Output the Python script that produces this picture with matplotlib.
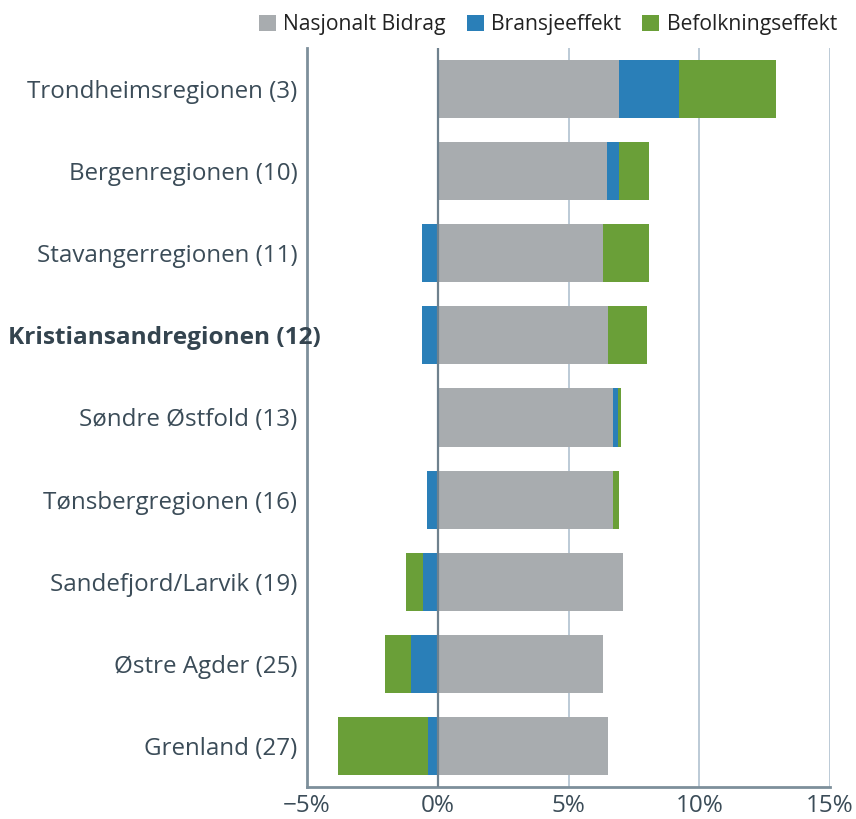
import matplotlib
matplotlib.use("Agg")
import matplotlib.pyplot as plt
import matplotlib.transforms as mtransforms
from matplotlib.patches import Patch
import numpy as np

plt.rcParams['font.family'] = ['Open Sans', 'DejaVu Sans']

regions = ["Trondheimsregionen (3)", "Bergenregionen (10)", "Stavangerregionen (11)",
           "Kristiansandregionen (12)", "Søndre Østfold (13)", "Tønsbergregionen (16)",
           "Sandefjord/Larvik (19)", "Østre Agder (25)", "Grenland (27)"]
nasjonalt = [6.95, 6.49, 6.33, 6.52, 6.72, 6.72, 7.10, 6.33, 6.52]
bransje = [2.27, 0.46, -0.62, -0.62, 0.19, -0.43, -0.55, -1.04, -0.39]
befolkning = [3.73, 1.11, 1.76, 1.50, 0.11, 0.23, -0.65, -0.96, -3.41]
xticks = [-5, 0, 5, 10, 15]
xticklabels = ["−5%", "0%", "5%", "10%", "15%"]
series_names = ["Nasjonalt Bidrag", "Bransjeeffekt", "Befolkningseffekt"]
highlight = "Kristiansandregionen (12)"

c_gray = "#a8acaf"
c_blue = "#2a7fb8"
c_green = "#6a9f38"
txt = "#3b4c58"

fig = plt.figure(figsize=(8.56, 8.19), dpi=100)
ax = fig.add_axes([307/856, 1 - 787/819, (830-307)/856, (787-48)/819])

y = np.arange(len(regions))
h = 0.707
nas = np.array(nasjonalt)
br = np.array(bransje)
bef = np.array(befolkning)

pos_base = np.zeros(len(y))
neg_base = np.zeros(len(y))
for vals, col in [(nas, c_gray), (br, c_blue), (bef, c_green)]:
    left = np.where(vals >= 0, pos_base, neg_base)
    ax.barh(y, vals, left=left, height=h, color=col, zorder=3, linewidth=0)
    pos_base = pos_base + np.where(vals >= 0, vals, 0)
    neg_base = neg_base + np.where(vals < 0, vals, 0)

ax.set_ylim(len(regions) - 0.5, -0.5)
ax.set_xlim(-5, 15)
ax.set_yticks(y)
ax.set_yticklabels([r if r != highlight else "" for r in regions], fontsize=17.4, color=txt)
hi = regions.index(highlight)
trans = mtransforms.blended_transform_factory(fig.transFigure, ax.transData)
ax.text(321/856, hi, highlight, transform=trans, ha='right', va='center_baseline',
        fontsize=17.6, fontweight='bold', color="#34444f", zorder=5)

ax.set_xticks(xticks)
ax.set_xticklabels(xticklabels, fontsize=17.5, color=txt)
ax.tick_params(axis='both', length=0)
ax.tick_params(axis='x', pad=5)
ax.tick_params(axis='y', pad=7)

for xv in [5, 10, 15]:
    ax.axvline(xv, color="#a9bccb", linewidth=1.1, zorder=1)
ax.axvline(0, color="#6f818e", linewidth=1.6, zorder=4)

for s in ['top', 'right']:
    ax.spines[s].set_visible(False)
for s in ['left', 'bottom']:
    ax.spines[s].set_color("#7d8f9b")
    ax.spines[s].set_linewidth(2)

handles = [Patch(facecolor=c, edgecolor='none') for c in (c_gray, c_blue, c_green)]
fig.legend(handles, series_names, loc='upper right', bbox_to_anchor=(1.0, 1.006),
           ncol=3, frameon=False, fontsize=15.2, handlelength=0.8, handleheight=0.8,
           handletextpad=0.35, columnspacing=1.0, labelcolor="#222222")

fig.savefig("out.png", dpi=100)
